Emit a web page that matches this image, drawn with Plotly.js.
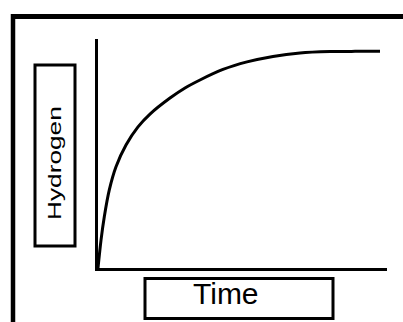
<!DOCTYPE html>
<html>
<head>
<meta charset="utf-8">
<script src="https://cdn.plot.ly/plotly-3.0.1.min.js"></script>
<style>html,body{margin:0;padding:0;background:#fff;}</style>
</head>
<body>
<div id="chart" style="width:403px;height:322px;"></div>
<script>
// Data (time in % of axis length, hydrogen in % of axis height)
const time = [0, 1.04, 2.18, 3.91, 6.23, 9.69, 13.84, 17.99, 24.91, 30.10, 35.29, 43.25, 51.56, 60.55, 69.90, 80.28, 88.93, 97.58];
const hydrogen = [0, 12.2, 22.4, 34.1, 44.2, 53.7, 61.6, 67.2, 74.2, 78.6, 82.1, 86.7, 90.0, 92.4, 93.9, 94.5, 94.6, 94.6];
const xLabel = "Time";
const yLabel = "Hydrogen";

const W = 403, H = 322;
const M = {l: 98, r: 16, t: 39, b: 54, pad: 0};
const PW = W - M.l - M.r, PH = H - M.t - M.b;
function px(x) { return (x - M.l) / PW; }
function py(y) { return (H - M.b - y) / PH; }

const font = "Liberation Sans, Arial, sans-serif";

const trace = {
  x: time, y: hydrogen, type: "scatter", mode: "lines",
  line: {color: "#000", width: 3, shape: "spline", smoothing: 0.8},
  hoverinfo: "skip"
};

const axisBase = {
  showline: true, linecolor: "#000", linewidth: 3,
  showgrid: false, zeroline: false, showticklabels: false, ticks: "",
  range: [0, 100], fixedrange: true
};

const layout = {
  width: W, height: H, margin: M,
  paper_bgcolor: "#fff", plot_bgcolor: "#fff",
  showlegend: false,
  xaxis: Object.assign({}, axisBase),
  yaxis: Object.assign({}, axisBase),
  shapes: [
    {type: "line", xref: "paper", yref: "paper", x0: px(11), x1: px(410), y0: py(16.5), y1: py(16.5), line: {color: "#000", width: 5}},
    {type: "line", xref: "paper", yref: "paper", x0: px(13), x1: px(13), y0: py(14), y1: py(330), line: {color: "#000", width: 4.5}},
    {type: "rect", xref: "paper", yref: "paper", x0: px(145), x1: px(333), y0: py(278.5), y1: py(318.5), line: {color: "#000", width: 3}, fillcolor: "rgba(0,0,0,0)"},
    {type: "rect", xref: "paper", yref: "paper", x0: px(35), x1: px(75), y0: py(65), y1: py(246), line: {color: "#000", width: 3}, fillcolor: "rgba(0,0,0,0)"}
  ],
  annotations: [
    {text: yLabel, xref: "paper", yref: "paper", x: px(55), y: py(163), showarrow: false, textangle: -90,
     xanchor: "center", yanchor: "middle", font: {family: font, size: 17.5, color: "#000"}},
    {text: xLabel, xref: "paper", yref: "paper", x: px(226), y: py(293), showarrow: false,
     xanchor: "center", yanchor: "middle", font: {family: font, size: 30, color: "#000"}}
  ]
};

Plotly.newPlot("chart", [trace], layout, {staticPlot: true, displayModeBar: false}).then(function () {
  // stretch the rotated "Hydrogen" label along its length, as in the reference
  const texts = document.querySelectorAll(".annotation-text");
  texts.forEach(function (t) {
    if (t.textContent === yLabel) {
      const b = t.getBBox();
      const cx = b.x + b.width / 2, cy = b.y + b.height / 2;
      t.setAttribute("transform", "translate(" + cx + "," + cy + ") scale(1.5,1) translate(" + (-cx) + "," + (-cy) + ")");
    }
  });
});
</script>
</body>
</html>
